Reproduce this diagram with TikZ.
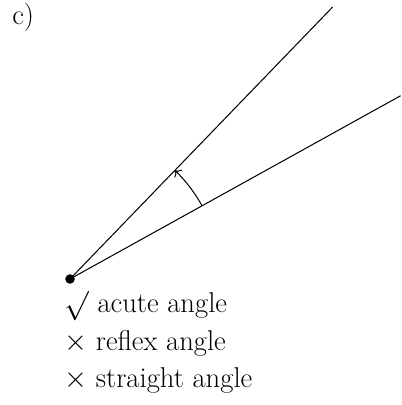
\documentclass[tikz,border=0pt]{standalone}
\usetikzlibrary{arrows.meta,positioning,calc}
\begin{document}
\begin{tikzpicture}[x=0.5866pt,y=0.5866pt,
    ray/.style={line width=0.6pt},
    lbl/.style={font=\fontsize{16.8}{20}\selectfont, anchor=base west, inner sep=0pt}
  ]
    \useasboundingbox (0,0) rectangle (401,405);

    % Part label
    \node[lbl] (tag) at (12,380) {c)};

    % Vertex and the two rays
    \coordinate (V) at (70,126);
    \coordinate (A) at ($(V)+(46:378)$);
    \coordinate (B) at ($(V)+(29:378)$);
    \draw[ray] (V) -- (A);
    \draw[ray] (V) -- (B);
    \fill (V) circle (2.8pt);

    % Angle arc
    \draw[ray,-{To[length=3pt]}] ($(V)+(29:151)$) arc[start angle=29, end angle=46, radius=88.6pt];

    % Choices
    \node[lbl] (acute)    at (64,92) {$\surd$ acute angle};
    \node[lbl] (reflex)   at (64,54) {$\times$ reflex angle};
    \node[lbl] (straight) at (64,17) {$\times$ straight angle};
  \end{tikzpicture}
\end{document}
